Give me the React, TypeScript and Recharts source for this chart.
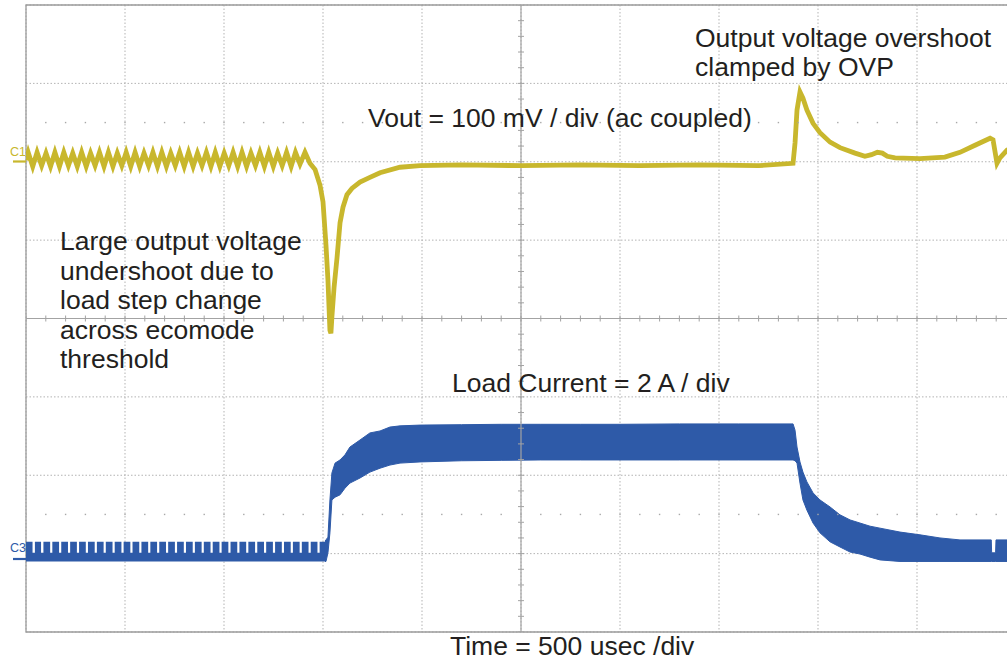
import React from 'react';
import {
  ComposedChart,
  Line,
  Area,
  Scatter,
  XAxis,
  YAxis,
  CartesianGrid,
  ReferenceLine,
  ReferenceArea
} from 'recharts';

// scope screen: 10 div x 500 usec, 8 div x 100 mV (C1 ground 2 div above centre)
const TIME_TICKS = [0, 500, 1000, 1500, 2000, 2500, 3000, 3500, 4000, 4500, 5000];
const VOLT_TICKS = [-600, -500, -400, -300, -200, -100, 0, 100, 200];

// Vout, ac coupled: [time usec, mV]
const VOUT: [number, number][] = [
  [0, 2], [11, 12], [34, -6], [56, 12], [79, -5], [101, 11], [124, -6], [146, 12],
  [169, -6], [191, 12], [214, -5], [236, 11], [259, -6], [281, 12], [304, -6], [326, 11],
  [349, -5], [371, 12], [394, -6], [416, 12], [439, -6], [461, 11], [484, -5], [506, 12],
  [529, -6], [551, 12], [574, -6], [596, 11], [619, -5], [641, 12], [664, -6], [686, 12],
  [709, -6], [731, 11], [754, -5], [776, 12], [799, -6], [821, 12], [844, -6], [866, 11],
  [889, -5], [911, 12], [934, -6], [956, 12], [979, -6], [1001, 11], [1024, -5], [1046, 12],
  [1069, -6], [1091, 12], [1114, -6], [1136, 11], [1159, -5], [1181, 12], [1204, -6], [1226, 12],
  [1249, -6], [1271, 11], [1294, -5], [1316, 12], [1339, -6], [1361, 12], [1384, -3], [1409, 12],
  [1434, -2], [1460, -10], [1485, -30], [1500, -51], [1515, -106], [1525, -151], [1535, -215],
  [1540, -219], [1545, -198], [1556, -160], [1571, -122], [1586, -78], [1601, -58], [1621, -42],
  [1646, -34], [1687, -26], [1737, -20], [1788, -14], [1889, -7], [1990, -5], [2200, -4],
  [2500, -5], [2800, -4], [3100, -5], [3400, -4], [3700, -5], [3874, -2], [3884, 24],
  [3894, 66], [3909, 89], [3924, 81], [3944, 66], [3975, 49], [4010, 37], [4061, 25],
  [4111, 18], [4187, 11], [4237, 7], [4270, 9], [4300, 12], [4325, 11], [4350, 7], [4389, 5],
  [4515, 4], [4641, 6], [4717, 12], [4793, 21], [4869, 30], [4884, 28], [4904, -2],
  [4919, 5], [4955, 15], [5000, 19]
];

// load current before the step: switching pulses [start usec, end usec], 0.5 A high, 0.22 A between
const LOAD_PULSES: [number, number][] = [
  [0, 33], [45, 76], [88, 122], [133, 167], [178, 212], [223, 257], [268, 302], [313, 347],
  [358, 392], [403, 437], [448, 482], [493, 527], [538, 572], [583, 617], [628, 662], [673, 707],
  [718, 752], [763, 797], [808, 842], [853, 887], [898, 932], [943, 977], [988, 1022], [1033, 1067],
  [1078, 1112], [1123, 1157], [1168, 1202], [1213, 1247], [1258, 1292], [1303, 1337], [1348, 1382],
  [1393, 1427], [1438, 1472], [1483, 1515]
];
const PULSE_HIGH = 0.5;
const PULSE_LOW = 0.22;

// load current envelope: [time usec, low A, high A]
const LOAD_BAND: [number, number, number][] = [
  [1510, 0, 0.52], [1515, 0, 0.55], [1525, 0.22, 0.62], [1535, 0.73, 1.57], [1545, 1.57, 2.26],
  [1561, 1.64, 2.51], [1586, 1.7, 2.59], [1611, 1.87, 2.72], [1636, 2.0, 2.92], [1687, 2.13, 3.1],
  [1737, 2.28, 3.28], [1788, 2.38, 3.33], [1838, 2.46, 3.43], [1889, 2.51, 3.46], [1990, 2.54, 3.48],
  [2200, 2.57, 3.49], [2400, 2.58, 3.5], [2600, 2.59, 3.5], [2800, 2.59, 3.5], [3000, 2.59, 3.5],
  [3300, 2.59, 3.51], [3600, 2.59, 3.51], [3874, 2.59, 3.51], [3884, 2.57, 3.35], [3894, 2.51, 2.92],
  [3909, 2.0, 2.54], [3924, 1.57, 2.28], [3944, 1.31, 2.03], [3975, 0.98, 1.75], [4010, 0.73, 1.57],
  [4061, 0.5, 1.39], [4111, 0.37, 1.19], [4162, 0.24, 1.06], [4212, 0.19, 0.98], [4263, 0.11, 0.9],
  [4313, 0.04, 0.85], [4414, 0, 0.75], [4515, 0, 0.68], [4616, 0, 0.6], [4717, 0, 0.55],
  [4875, 0, 0.55], [4877, 0, 0.22], [4897, 0, 0.22], [4899, 0, 0.55], [5000, 0, 0.55]
];

const YELLOW = '#c8b72d';
const BLUE = '#2e5aa8';
const GRID = '#b3b3b3';
const TEXT = '#231f20';

const voutData = VOUT.map(([t, v]) => ({ t, v }));
const combData = [
  ...LOAD_PULSES.flatMap(([s, e]) => [
    { t: s, band: [0, PULSE_HIGH] },
    { t: e, band: [0, PULSE_LOW] }
  ]),
  { t: 1515, band: [0, PULSE_HIGH] }
];
const bandData = LOAD_BAND.map(([t, lo, hi]) => ({ t, band: [lo, hi] }));

// minor division marks on the centre cross and the two dotted rows
const minorT = Array.from({ length: 51 }, (_, k) => k * 100);
const minorV = Array.from({ length: 41 }, (_, k) => -600 + k * 20);
const hTicks = minorT.map((t) => ({ t, v: -200 }));
const vTicks = minorV.map((v) => ({ t: 2500, v }));
const dotRows = [...minorT.map((t) => ({ t, v: 50 })), ...minorT.map((t) => ({ t, v: -450 }))];

const VTick = (p: any) => (
  <line x1={p.cx} x2={p.cx} y1={p.cy - 3} y2={p.cy + 3} stroke="#a3a3a3" strokeWidth={1} />
);
const HTick = (p: any) => (
  <line x1={p.cx - 3} x2={p.cx + 3} y1={p.cy} y2={p.cy} stroke="#a3a3a3" strokeWidth={1} />
);
const Dot = (p: any) => <rect x={p.cx - 0.7} y={p.cy - 0.7} width={1.4} height={1.4} fill="#a8a8a8" />;

const font = { fontFamily: '"Liberation Sans", Arial, sans-serif', fontSize: 26.5, fill: TEXT };

export default function App() {
  return (
    <div style={{ position: 'absolute', left: 0, top: 0, width: 1007, height: 664, overflow: 'hidden', background: '#fff' }}>
      <ComposedChart width={1030} height={664} margin={{ top: 5, right: 14, bottom: 32, left: 26 }}>
        <XAxis type="number" dataKey="t" domain={[0, 5000]} ticks={TIME_TICKS} hide allowDataOverflow />
        <YAxis yAxisId="v" type="number" dataKey="v" domain={[-600, 200]} ticks={VOLT_TICKS} hide allowDataOverflow />
        <YAxis yAxisId="i" type="number" domain={[-1.8, 14.2]} hide allowDataOverflow />
        <CartesianGrid yAxisId="v" stroke={GRID} strokeDasharray="1.5 2" />
        <ReferenceArea yAxisId="v" x1={0} x2={5000} y1={-600} y2={200} fill="none" fillOpacity={0} stroke="#9c9c9c" strokeWidth={1.3} />
        <ReferenceLine x={2500} yAxisId="v" stroke="#a3a3a3" strokeWidth={1.2} />
        <ReferenceLine y={-200} yAxisId="v" stroke="#a3a3a3" strokeWidth={1.2} />
        <Scatter yAxisId="v" data={hTicks} dataKey="v" shape={VTick} isAnimationActive={false} />
        <Scatter yAxisId="v" data={vTicks} dataKey="v" shape={HTick} isAnimationActive={false} />
        <Scatter yAxisId="v" data={dotRows} dataKey="v" shape={Dot} isAnimationActive={false} />
        <Area
          yAxisId="i"
          data={combData}
          dataKey="band"
          type="stepAfter"
          stroke="none"
          fill={BLUE}
          fillOpacity={1}
          isAnimationActive={false}
        />
        <Area
          yAxisId="i"
          data={bandData}
          dataKey="band"
          type="linear"
          stroke={BLUE}
          strokeWidth={1}
          fill={BLUE}
          fillOpacity={1}
          isAnimationActive={false}
        />
        <Line
          yAxisId="v"
          data={voutData}
          dataKey="v"
          type="linear"
          stroke={YELLOW}
          strokeWidth={4.8}
          dot={false}
          isAnimationActive={false}
        />
      </ComposedChart>
      <svg width={1007} height={664} style={{ position: 'absolute', left: 0, top: 0, pointerEvents: 'none' }}>
        <text x={10} y={156} fontFamily='"Liberation Sans", Arial, sans-serif' fontSize={12.5} fill={YELLOW}>C1</text>
        <line x1={13} x2={26} y1={161.5} y2={161.5} stroke={YELLOW} strokeWidth={2.2} />
        <text x={10} y={552} fontFamily='"Liberation Sans", Arial, sans-serif' fontSize={12.5} fill={BLUE}>C3</text>
        <line x1={13} x2={26} y1={559} y2={559} stroke={BLUE} strokeWidth={2.2} />
        <text x={695} y={47} style={font}>Output voltage overshoot</text>
        <text x={695} y={76} style={font}>clamped by OVP</text>
        <text x={368} y={127} style={font}>Vout = 100 mV / div (ac coupled)</text>
        <text x={60} y={250} style={font}>Large output voltage</text>
        <text x={60} y={279.5} style={font}>undershoot due to</text>
        <text x={60} y={309} style={font}>load step change</text>
        <text x={60} y={338.5} style={font}>across ecomode</text>
        <text x={60} y={368} style={font}>threshold</text>
        <text x={452} y={392} style={font}>Load Current = 2 A / div</text>
        <text x={450} y={655} style={font}>Time = 500 usec /div</text>
      </svg>
    </div>
  );
}
